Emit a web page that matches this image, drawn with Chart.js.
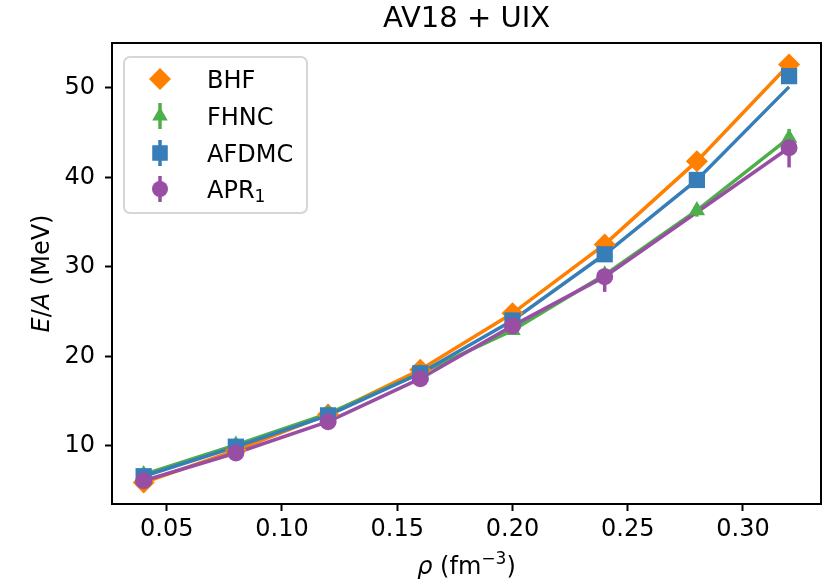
<!DOCTYPE html>
<html>
<head>
<meta charset="utf-8">
<script src="https://cdn.jsdelivr.net/npm/chart.js@4"></script>
<style>
  html, body { margin: 0; padding: 0; background: #fff; }
  #wrap { width: 833px; height: 585px; }
</style>
</head>
<body>
<div id="wrap"><canvas id="c" width="833" height="585"></canvas></div>
<script>
// Neutron-matter energy per particle, AV18 + UIX
const rho = [0.04, 0.08, 0.12, 0.16, 0.20, 0.24, 0.28, 0.32];
const bhf = [5.9, 9.5, 13.5, 18.5, 24.8, 32.5, 41.8, 52.6];
const fhnc = [6.8, 10.1, 13.6, 18.1, 22.9, 29.1, 36.3, 44.4];
const fhncErr = [0.1, 0.15, 0.2, 0.3, 0.4, 0.5, 0.7, 1.0];
const afdmc = [6.6, 9.9, 13.4, 18.1, 24.0, 31.4, 39.7, 51.3];
const afdmcErr = [0.05, 0.1, 0.15, 0.2, 0.3, 0.4, 0.5, 0.6];
const afdmcCurve = [6.6, 9.9, 13.4, 18.1, 24.0, 31.4, 39.7, 50.1];
const aprRho = [0.04, 0.08, 0.12, 0.16, 0.20, 0.24, 0.32];
const apr1 = [6.1, 9.2, 12.7, 17.5, 23.4, 28.9, 43.3];
const apr1ErrLow = [0.2, 0.3, 0.4, 0.5, 0.8, 1.7, 2.2];
const apr1ErrHigh = [0.2, 0.3, 0.4, 0.5, 0.6, 0.6, 0.5];
const xTicks = [0.05, 0.10, 0.15, 0.20, 0.25, 0.30];
const yTicks = [10, 20, 30, 40, 50];

const ORANGE = '#ff7f00', GREEN = '#4daf4a', BLUE = '#377eb8', PURPLE = '#984ea3';
const FAMILY = '"DejaVu Sans", sans-serif';
const pts = (xs, ys) => xs.map((x, i) => ({ x: x, y: ys[i] }));

function curve(xs, ys, color, order) {
  return {
    data: pts(xs, ys), showLine: true, borderColor: color, backgroundColor: color,
    borderWidth: 3.5, pointRadius: 0, tension: 0, order: order
  };
}
function markers(label, xs, ys, color, style, r, order, lo, hi) {
  return {
    label: label, data: pts(xs, ys), showLine: false, borderColor: color,
    backgroundColor: color, pointStyle: style, pointRadius: r, pointBorderWidth: 0,
    pointBackgroundColor: color, order: order, errLow: lo, errHigh: hi
  };
}

// vertical error bars, drawn beneath each dataset's markers
const errorBars = {
  id: 'errorBars',
  beforeDatasetDraw(chart, args) {
    const ds = chart.data.datasets[args.index];
    if (!ds.errLow) return;
    const ys = chart.scales.y, ctx = chart.ctx;
    ctx.save();
    ctx.strokeStyle = ds.borderColor;
    ctx.lineWidth = 3.5;
    args.meta.data.forEach((el, i) => {
      const v = ds.data[i].y;
      ctx.beginPath();
      ctx.moveTo(el.x, ys.getPixelForValue(v - ds.errLow[i]));
      ctx.lineTo(el.x, ys.getPixelForValue(v + ds.errHigh[i]));
      ctx.stroke();
    });
    ctx.restore();
  }
};

// closed frame round the plot area
const frame = {
  id: 'frame',
  afterDatasetsDraw(chart) {
    const a = chart.chartArea, ctx = chart.ctx;
    ctx.save();
    ctx.strokeStyle = '#000';
    ctx.lineWidth = 2;
    ctx.strokeRect(a.left, a.top, a.right - a.left, a.bottom - a.top);
    ctx.restore();
  }
};

// axis titles with italic symbols and superscript
const axisTitles = {
  id: 'axisTitles',
  afterDraw(chart) {
    const a = chart.chartArea, ctx = chart.ctx;
    ctx.save();
    ctx.fillStyle = '#000';
    ctx.textBaseline = 'alphabetic';
    ctx.textAlign = 'left';
    // x title: rho (fm^-3)
    const parts = [
      { t: 'ρ', f: 'italic 24px ' + FAMILY, dy: 0 },
      { t: ' (fm', f: '24px ' + FAMILY, dy: 0 },
      { t: '−3', f: '17px ' + FAMILY, dy: -10 },
      { t: ')', f: '24px ' + FAMILY, dy: 0 }
    ];
    let w = 0;
    parts.forEach(p => { ctx.font = p.f; p.w = ctx.measureText(p.t).width; w += p.w; });
    let x = (a.left + a.right) / 2 - w / 2;
    const base = 574;
    parts.forEach(p => { ctx.font = p.f; ctx.fillText(p.t, x, base + p.dy); x += p.w; });

    // y title: E/A (MeV)
    ctx.translate(49, (a.top + a.bottom) / 2);
    ctx.rotate(-Math.PI / 2);
    const yparts = [
      { t: 'E', f: 'italic 24px ' + FAMILY },
      { t: '/', f: '24px ' + FAMILY },
      { t: 'A', f: 'italic 24px ' + FAMILY },
      { t: ' (MeV)', f: '24px ' + FAMILY }
    ];
    w = 0;
    yparts.forEach(p => { ctx.font = p.f; p.w = ctx.measureText(p.t).width; w += p.w; });
    x = -w / 2;
    yparts.forEach(p => { ctx.font = p.f; ctx.fillText(p.t, x, 0); x += p.w; });
    ctx.restore();
  }
};

// boxed legend with marker and error-bar handles
const legendBox = {
  id: 'legendBox',
  afterDraw(chart) {
    const ctx = chart.ctx;
    const items = [
      { label: 'BHF', color: ORANGE, style: 'rectRot', r: 11, bar: false, y: 79 },
      { label: 'FHNC', color: GREEN, style: 'triangle', r: 9, bar: true, y: 116 },
      { label: 'AFDMC', color: BLUE, style: 'rect', r: 11, bar: true, y: 153 },
      { label: 'APR', sub: '1', color: PURPLE, style: 'circle', r: 8, bar: true, y: 189 }
    ];
    ctx.save();
    ctx.beginPath();
    if (ctx.roundRect) ctx.roundRect(124, 57, 183, 156, 6); else ctx.rect(124, 57, 183, 156);
    ctx.fillStyle = 'rgba(255,255,255,0.8)';
    ctx.fill();
    ctx.strokeStyle = '#d6d6d6';
    ctx.lineWidth = 2;
    ctx.stroke();
    items.forEach(it => {
      if (it.bar) {
        ctx.strokeStyle = it.color;
        ctx.lineWidth = 3.5;
        ctx.beginPath();
        ctx.moveTo(160, it.y - 13);
        ctx.lineTo(160, it.y + 13);
        ctx.stroke();
      }
      ctx.fillStyle = it.color;
      ctx.beginPath();
      Chart.helpers.drawPoint(ctx, {
        pointStyle: it.style, radius: it.r, rotation: 0, borderWidth: 0
      }, 160, it.y);
      ctx.fillStyle = '#000';
      ctx.font = '24px ' + FAMILY;
      ctx.textBaseline = 'alphabetic';
      ctx.textAlign = 'left';
      ctx.fillText(it.label, 207, it.y + 8.7);
      if (it.sub) {
        const w = ctx.measureText(it.label).width;
        ctx.font = '17px ' + FAMILY;
        ctx.fillText(it.sub, 207 + w, it.y + 13);
      }
    });
    ctx.restore();
  }
};

const tickFont = { family: FAMILY, size: 24 };

new Chart(document.getElementById('c'), {
  type: 'scatter',
  data: {
    datasets: [
      curve(rho, bhf, ORANGE, 8),
      curve(rho, fhnc, GREEN, 7),
      curve(rho, afdmcCurve, BLUE, 6),
      curve(aprRho, apr1, PURPLE, 5),
      markers('BHF', rho, bhf, ORANGE, 'rectRot', 11, 4, null, null),
      markers('FHNC', rho, fhnc, GREEN, 'triangle', 9.5, 3, fhncErr, fhncErr),
      markers('AFDMC', rho, afdmc, BLUE, 'rect', 11.5, 2, afdmcErr, afdmcErr),
      markers('APR1', aprRho, apr1, PURPLE, 'circle', 8.5, 1, apr1ErrLow, apr1ErrHigh)
    ]
  },
  options: {
    responsive: false,
    animation: false,
    layout: { padding: { left: 0, right: 12, top: 0, bottom: 0 } },
    plugins: {
      legend: { display: false },
      tooltip: { enabled: false },
      title: {
        display: true, text: 'AV18 + UIX', color: '#000', fullSize: false,
        font: { family: FAMILY, size: 29, weight: 'normal' },
        padding: { top: 2, bottom: 6.2 }
      }
    },
    scales: {
      x: {
        type: 'linear', min: 0.02626, max: 0.33385,
        afterBuildTicks: s => { s.ticks = xTicks.map(v => ({ value: v })); },
        afterFit: s => { s.height = 81; },
        ticks: {
          callback: v => v.toFixed(2), color: '#000', font: tickFont,
          padding: 4, maxRotation: 0, autoSkip: false
        },
        grid: { drawOnChartArea: false, drawTicks: true, tickLength: 7, tickWidth: 2, tickColor: '#000' },
        border: { display: true, color: '#000', width: 2 }
      },
      y: {
        type: 'linear', min: 3.5, max: 55.0,
        afterBuildTicks: s => { s.ticks = yTicks.map(v => ({ value: v })); },
        afterFit: s => { s.width = 112; },
        ticks: { callback: v => String(v), color: '#000', font: tickFont, padding: 10, autoSkip: false },
        grid: { drawOnChartArea: false, drawTicks: true, tickLength: 7, tickWidth: 2, tickColor: '#000' },
        border: { display: true, color: '#000', width: 2 }
      }
    }
  },
  plugins: [errorBars, frame, axisTitles, legendBox]
});
</script>
</body>
</html>
